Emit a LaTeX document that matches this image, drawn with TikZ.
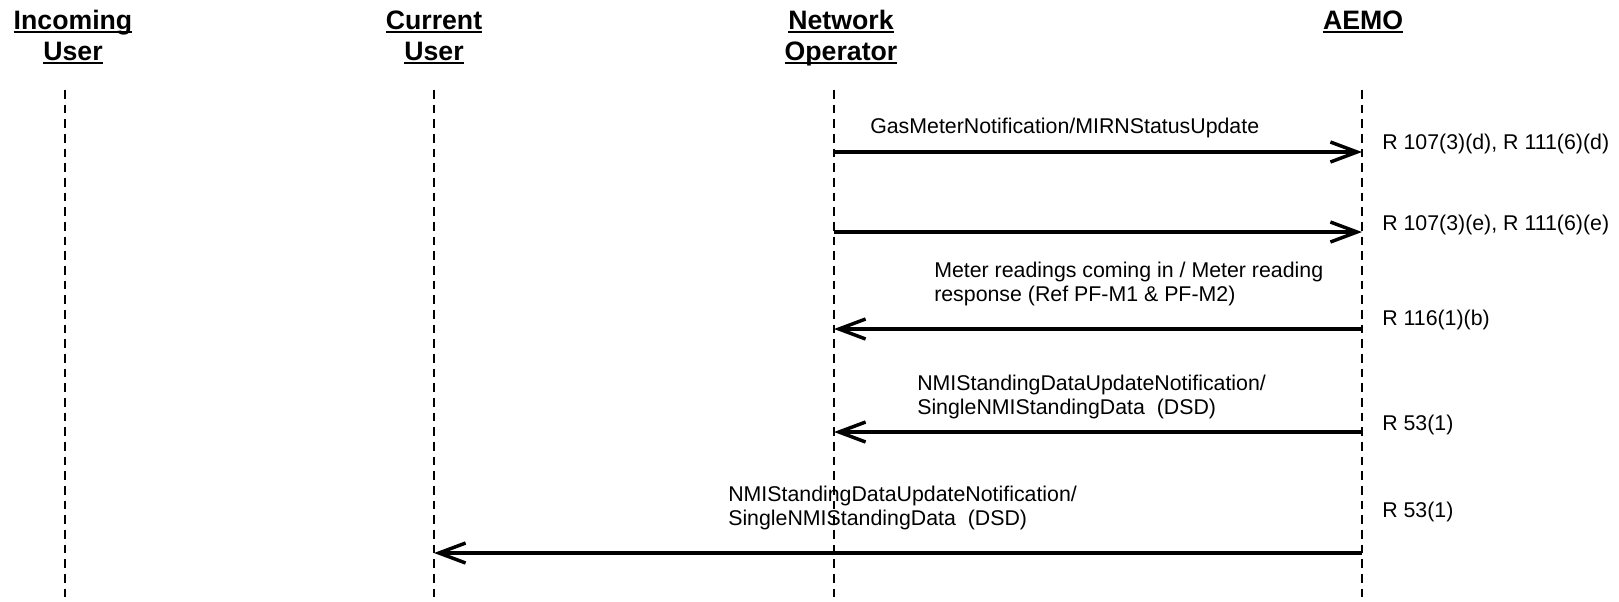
\documentclass[tikz,border=0pt]{standalone}
\usepackage{fontspec}
\setmainfont{Liberation Sans}
\usetikzlibrary{arrows.meta,positioning}

\newcommand\undl[1]{\setbox0\hbox{#1}\rlap{\rule[-0.16em]{\wd0}{0.075em}}\box0}

\tikzset{
  actor/.style={font=\fontsize{20pt}{23pt}\selectfont\bfseries, anchor=base, inner sep=0pt},
  life/.style={line width=1.1pt, dash pattern=on 6.5pt off 4.5pt},
  msg/.style={line width=2.6pt, -{Straight Barb[length=20pt,width=15pt]}},
  note/.style={font=\fontsize{16pt}{18.5pt}\selectfont, align=left, anchor=west, inner sep=0pt}
}

\begin{document}
\begin{tikzpicture}[x=0.75pt,y=-0.75pt]
  \useasboundingbox (0,0) rectangle (1619,601);
  % actors and life lines
  \foreach \x/\l/\a/\b/\n in {65/73/Incoming/User/inc, 434/434/Current/User/cur,
      834/841/Network/Operator/net, 1362/1363/AEMO//aemo} {
    \node[actor] (\n-1) at (\l,29) {\undl{\a}};
    \node[actor] (\n-2) at (\l,60) {\undl{\b}};
    \coordinate (\n-top) at (\x,90);
    \coordinate (\n-bot) at (\x,601);
    \draw[life] (\n-top) -- (\n-bot);
  }
  % messages
  \foreach \y/\f/\t [count=\i] in {152/net/aemo, 232/net/aemo, 329/aemo/net,
      432/aemo/net, 553/aemo/cur} {
    \coordinate (s\i) at (\f-top |- 0,\y);
    \coordinate (e\i) at (\t-top |- 0,\y);
    \draw[msg] (s\i) -- (e\i);
  }
  \node[note] (gas) at (870,128) {GasMeterNotification/MIRNStatusUpdate};
  \node[note] (rd) at (934,284) {Meter readings coming in / Meter reading\\response (Ref PF-M1 \& PF-M2)};
  \node[note] (sd1) at (917,397) {NMIStandingDataUpdateNotification/\\SingleNMIStandingData\ \ (DSD)};
  \node[note] (sd2) at (728,508) {NMIStandingDataUpdateNotification/\\SingleNMIStandingData\ \ (DSD)};
  % rule references
  \foreach \y/\r [count=\i] in {144/{R 107(3)(d), R 111(6)(d)}, 225/{R 107(3)(e), R 111(6)(e)},
      320/R 116(1)(b), 425/R 53(1), 512/R 53(1)} {
    \node[note] (r\i) at (1382,\y) {\r};
  }
\end{tikzpicture}
\end{document}
